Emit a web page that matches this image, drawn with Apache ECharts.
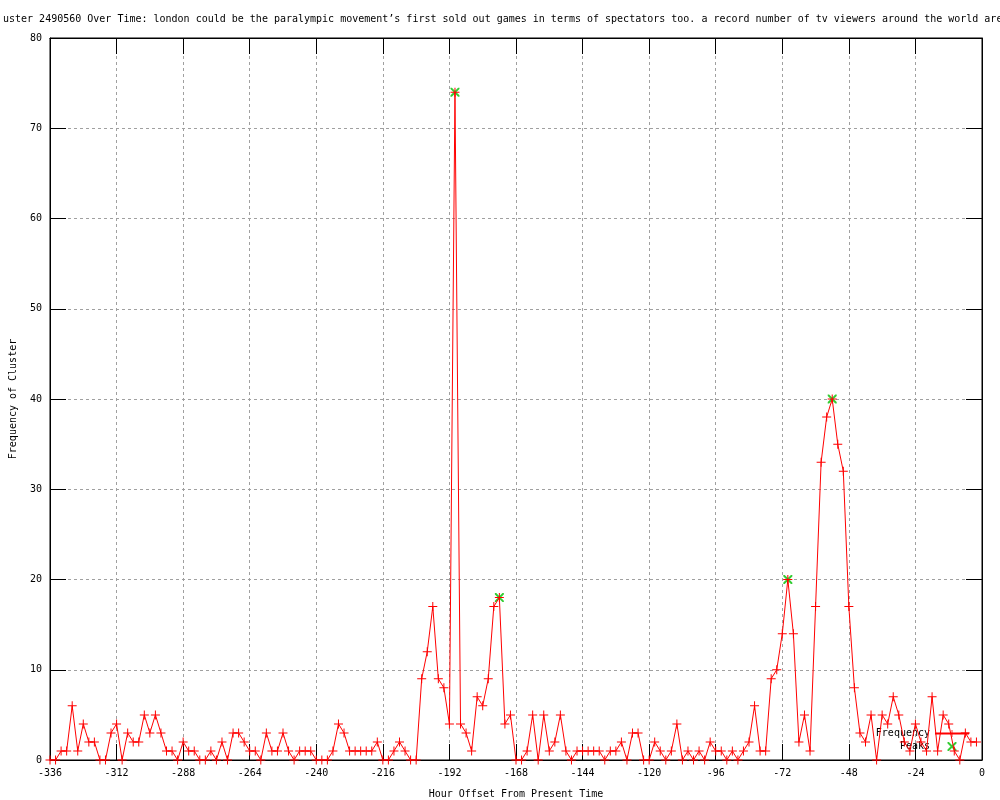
<!DOCTYPE html>
<html>
<head>
<meta charset="utf-8">
<script src="https://cdn.jsdelivr.net/npm/echarts/dist/echarts.min.js"></script>
<style>
  html, body { margin: 0; padding: 0; background: #fff; }
  #chart { width: 1000px; height: 800px; }
</style>
</head>
<body>
<div id="chart"></div>
<script>
// hour offsets (x) and cluster frequency (y)
var hours = [
  -336, -334, -332, -330, -328, -326, -324, -322, -320, -318, -316, -314,
  -312, -310, -308, -306, -304, -302, -300, -298, -296, -294, -292, -290,
  -288, -286, -284, -282, -280, -278, -276, -274, -272, -270, -268, -266,
  -264, -262, -260, -258, -256, -254, -252, -250, -248, -246, -244, -242,
  -240, -238, -236, -234, -232, -230, -228, -226, -224, -222, -220, -218,
  -216, -214, -212, -210, -208, -206, -204, -202, -200, -198, -196, -194,
  -192, -190, -188, -186, -184, -182, -180, -178, -176, -174, -172, -170,
  -168, -166, -164, -162, -160, -158, -156, -154, -152, -150, -148, -146,
  -144, -142, -140, -138, -136, -134, -132, -130, -128, -126, -124, -122,
  -120, -118, -116, -114, -112, -110, -108, -106, -104, -102, -100, -98,
  -96, -94, -92, -90, -88, -86, -84, -82, -80, -78, -76, -74,
  -72, -70, -68, -66, -64, -62, -60, -58, -56, -54, -52, -50,
  -48, -46, -44, -42, -40, -38, -36, -34, -32, -30, -28, -26,
  -24, -22, -20, -18, -16, -14, -12, -10, -8, -6, -4, -2
];
var frequency = [
  0, 0, 1, 1, 6, 1, 4, 2, 2, 0, 0, 3,
  4, 0, 3, 2, 2, 5, 3, 5, 3, 1, 1, 0,
  2, 1, 1, 0, 0, 1, 0, 2, 0, 3, 3, 2,
  1, 1, 0, 3, 1, 1, 3, 1, 0, 1, 1, 1,
  0, 0, 0, 1, 4, 3, 1, 1, 1, 1, 1, 2,
  0, 0, 1, 2, 1, 0, 0, 9, 12, 17, 9, 8,
  4, 74, 4, 3, 1, 7, 6, 9, 17, 18, 4, 5,
  0, 0, 1, 5, 0, 5, 1, 2, 5, 1, 0, 1,
  1, 1, 1, 1, 0, 1, 1, 2, 0, 3, 3, 0,
  0, 2, 1, 0, 1, 4, 0, 1, 0, 1, 0, 2,
  1, 1, 0, 1, 0, 1, 2, 6, 1, 1, 9, 10,
  14, 20, 14, 2, 5, 1, 17, 33, 38, 40, 35, 32,
  17, 8, 3, 2, 5, 0, 5, 4, 7, 5, 2, 1,
  4, 2, 1, 7, 1, 5, 4, 1, 0, 3, 2, 2
];
var peakHours = [-190, -174, -70, -54];
var peakValues = [74, 18, 20, 40];

var titleText = 'uster 2490560 Over Time: london could be the paralympic movement\u2019s first sold out games in terms of spectators too. a record number of tv viewers around the world are';

var FONT = 'DejaVu Sans Mono';
var plusSymbol = 'path://M4,0h1v4h4v1h-4v4h-1v-4h-4v-1h4z';
var crossSymbol = 'path://M0,0L1.4,0L9,7.6L9,9L7.6,9L0,1.4Z M9,0L9,1.4L1.4,9L0,9L0,7.6L7.6,0Z';

var freqData = hours.map(function(h, i) { return [h, frequency[i]]; });
var peakData = peakHours.map(function(h, i) { return [h, peakValues[i]]; });

var chart = echarts.init(document.getElementById('chart'));

function gridLine() {
  return { show: true, lineStyle: { color: '#a0a0a0', type: [3, 3], width: 1 } };
}
function tickIn() {
  return { show: true, inside: true, length: 16, lineStyle: { color: '#000', width: 1 } };
}
function blackLine() {
  return { show: true, onZero: false, lineStyle: { color: '#000', width: 1 } };
}

chart.setOption({
  animation: false,
  backgroundColor: '#fff',
  textStyle: { fontFamily: FONT },
  title: {
    text: titleText,
    left: 3,
    top: 14,
    padding: 0,
    textStyle: { fontFamily: FONT, fontSize: 10, fontWeight: 'normal', color: '#000' }
  },
  legend: {
    orient: 'vertical',
    right: 30,
    top: 728.5,
    align: 'right',
    padding: 0,
    itemWidth: 34,
    itemHeight: 9,
    itemGap: 3,
    textStyle: { fontFamily: FONT, fontSize: 10, color: '#000' },
    data: ['Frequency', 'Peaks']
  },
  grid: {
    left: 50, right: 18, top: 38, bottom: 40,
    containLabel: false,
    outerBoundsMode: 'none',
    show: true, borderColor: '#000', borderWidth: 1
  },
  xAxis: [{
    type: 'value',
    min: -336, max: 0, interval: 24,
    name: 'Hour Offset From Present Time',
    nameLocation: 'middle',
    nameGap: 29,
    nameTextStyle: { fontFamily: FONT, fontSize: 10, color: '#000' },
    axisLine: blackLine(),
    axisTick: tickIn(),
    axisLabel: { color: '#000', fontFamily: FONT, fontSize: 10, margin: 8 },
    splitLine: gridLine()
  }, {
    type: 'value',
    position: 'top',
    min: -336, max: 0, interval: 24,
    axisLine: blackLine(),
    axisTick: tickIn(),
    axisLabel: { show: false },
    splitLine: { show: false }
  }],
  yAxis: [{
    type: 'value',
    position: 'left',
    min: 0, max: 80, interval: 10,
    name: 'Frequency of Cluster',
    nameLocation: 'middle',
    nameRotate: 90,
    nameGap: 32,
    nameTextStyle: { fontFamily: FONT, fontSize: 10, color: '#000' },
    axisLine: blackLine(),
    axisTick: tickIn(),
    axisLabel: { color: '#000', fontFamily: FONT, fontSize: 10, margin: 8 },
    splitLine: gridLine()
  }, {
    type: 'value',
    position: 'right',
    min: 0, max: 80, interval: 10,
    axisLine: blackLine(),
    axisTick: tickIn(),
    axisLabel: { show: false },
    splitLine: { show: false }
  }],
  series: [{
    name: 'Peaks',
    type: 'scatter',
    data: peakData,
    symbol: crossSymbol,
    symbolSize: 9,
    itemStyle: { color: '#00c000' },
    z: 3
  }, {
    name: 'Frequency',
    type: 'line',
    data: freqData,
    symbol: plusSymbol,
    symbolSize: 9,
    showAllSymbol: true,
    lineStyle: { color: '#ff0000', width: 1 },
    itemStyle: { color: '#ff0000' },
    z: 4
  }]
});
</script>
</body>
</html>
